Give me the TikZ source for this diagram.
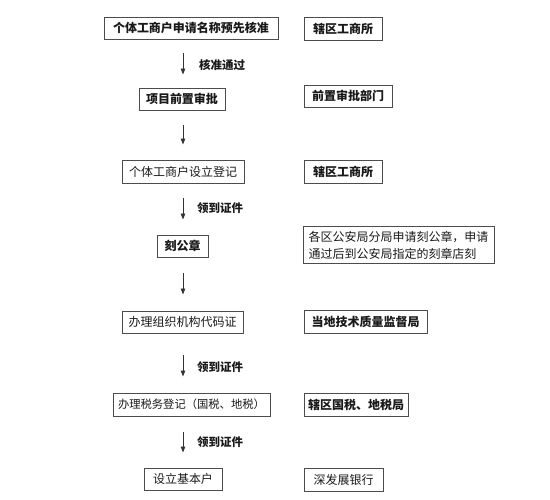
\documentclass[tikz,border=0pt]{standalone}
\usepackage{fontspec}
\setmainfont{Noto Sans CJK SC}
\usetikzlibrary{arrows.meta}
\begin{document}
\begin{tikzpicture}[x=1pt,y=-1pt,
  box/.style={draw=black!70,line width=0.9pt,rectangle,inner sep=0pt,
    minimum height=22pt,font=\fontsize{12}{15}\selectfont,text=black!90},
  boldbox/.style={box,font=\fontsize{12}{15}\selectfont\bfseries},
  arr/.style={draw=black!80,line width=0.9pt,-{Triangle[length=6pt,width=4.5pt]}},
  lab/.style={font=\fontsize{11.5}{14}\selectfont\bfseries,text=black!90,inner sep=0pt}]
\useasboundingbox (0,0) rectangle (550,500);
\coordinate (ax) at (183,0);
% left column
\node[boldbox,minimum width=174pt] (b1) at (191,28) {个体工商户申请名称预先核准};
\node[boldbox,minimum width=86pt] (b2) at (182,99) {项目前置审批};
\node[box,minimum width=122pt,minimum height=23pt] (b3) at (183,171.5) {个体工商户设立登记};
\node[boldbox,minimum width=51pt] (b4) at (182.5,246) {刻公章};
\node[box,minimum width=121pt] (b5) at (182.5,322) {办理组织机构代码证};
\node[box,minimum width=157pt,minimum height=23pt,font=\fontsize{11.3}{14}\selectfont] (b6) at (191.5,404.5) {办理税务登记（国税、地税）};
\node[box,minimum width=78pt] (b7) at (183,479) {设立基本户};
% right column
\node[boldbox,minimum width=78pt,minimum height=23pt] (r1) at (343,28.5) {辖区工商所};
\node[boldbox,minimum width=88pt] (r2) at (348,96) {前置审批部门};
\node[boldbox,minimum width=78pt,minimum height=23pt] (r3) at (343,171.5) {辖区工商所};
\node[box,minimum width=191pt,minimum height=37pt,align=left,
  font=\fontsize{12}{17}\selectfont] (r4) at (398.5,245)
  {各区公安局分局申请刻公章，申请\\通过后到公安局指定的刻章店刻};
\node[boldbox,minimum width=123pt,minimum height=23pt] (r5) at (365.5,321.5) {当地技术质量监督局};
\node[boldbox,minimum width=104pt,minimum height=23pt] (r6) at (356,404.5) {辖区国税、地税局};
\node[box,minimum width=79pt,minimum height=23pt] (r7) at (343.5,479.5) {深发展银行};
% arrows
\draw[arr,shorten <=14pt,shorten >=13pt] (b1.south -| ax) -- (b2.north -| ax);
\draw[arr,shorten <=15pt,shorten >=15pt] (b2.south -| ax) -- (b3.north -| ax);
\draw[arr,shorten <=15pt,shorten >=15pt] (b3.south -| ax) -- (b4.north -| ax);
\draw[arr,shorten <=16pt,shorten >=16pt] (b4.south -| ax) -- (b5.north -| ax);
\draw[arr,shorten <=22pt,shorten >=16pt] (b5.south -| ax) -- (b6.north -| ax);
\draw[arr,shorten <=16pt,shorten >=15pt] (b6.south -| ax) -- (b7.north -| ax);
% labels
\node[lab] (l1) at (222,65) {核准通过};
\node[lab] (l2) at (220,208) {领到证件};
\node[lab] (l3) at (220,367) {领到证件};
\node[lab] (l4) at (220,442) {领到证件};
\end{tikzpicture}
\end{document}
